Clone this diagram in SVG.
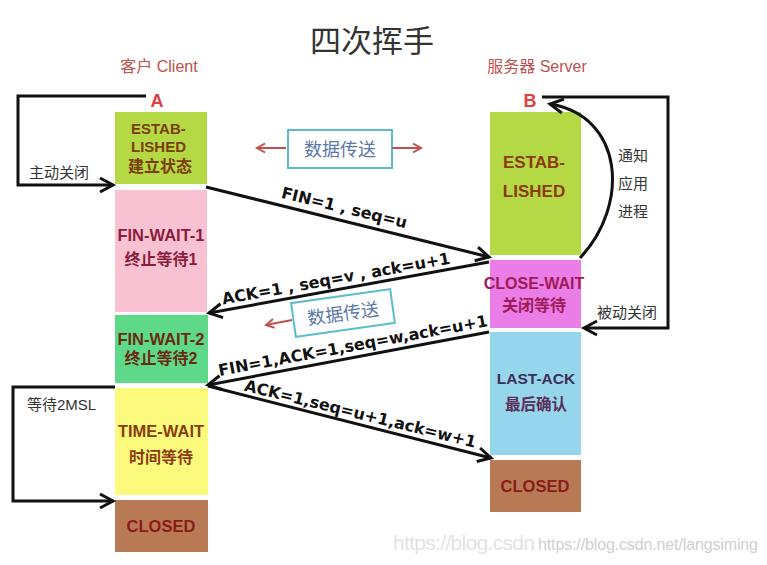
<svg xmlns="http://www.w3.org/2000/svg" width="767" height="565" viewBox="0 0 767 565">
<style>
.cjk{font-family:"Liberation Sans","Noto Sans CJK SC",sans-serif}
.st{font-family:"Liberation Sans","Noto Sans CJK SC",sans-serif;font-weight:bold;text-anchor:middle}
.lbl{font-family:"Liberation Sans","Noto Sans CJK SC",sans-serif;font-size:15px;fill:#333}
.msg{font-family:"DejaVu Sans","Noto Sans CJK SC",sans-serif;font-size:16px;font-weight:bold;fill:#111;text-anchor:middle}
.ln{fill:none;stroke:#111;stroke-width:3}
.red{fill:none;stroke:#c0504d;stroke-width:2}
.box{fill:#fff;stroke:#5bbccc;stroke-width:2}
.dt{font-family:"Noto Sans CJK SC",sans-serif;font-size:18px;fill:#5c78a8;text-anchor:middle}
</style>
<defs>
<marker id="ah" markerUnits="userSpaceOnUse" markerWidth="20" markerHeight="20" refX="0" refY="0" viewBox="-16 -10 20 20" orient="auto">
<path d="M-13,-7 L0,0 L-13,7" fill="none" stroke="#111" stroke-width="3"/>
</marker>
<marker id="rh" markerUnits="userSpaceOnUse" markerWidth="14" markerHeight="14" refX="0" refY="0" viewBox="-10 -7 14 14" orient="auto">
<path d="M-8,-4.5 L0,0 L-8,4.5" fill="none" stroke="#c0504d" stroke-width="2"/>
</marker>
</defs>
<rect width="767" height="565" fill="#fff"/>

<text x="372" y="52" class="cjk" font-size="31" fill="#333" text-anchor="middle">四次挥手</text>
<text x="159" y="72" class="cjk" font-size="16" fill="#c0504d" text-anchor="middle">客户 Client</text>
<text x="537" y="72" class="cjk" font-size="16" fill="#c0504d" text-anchor="middle">服务器 Server</text>
<text x="157" y="107" class="st" font-size="18" fill="#e0403f">A</text>
<text x="530" y="107" class="st" font-size="18" fill="#e0403f">B</text>

<g id="client-established">
<rect x="115" y="112" width="92" height="72" fill="#b5d944"/>
<text x="131" y="134" class="st" font-size="15" fill="#7a3c08" style="text-anchor:start">ESTAB-</text>
<text x="131" y="152" class="st" font-size="15" fill="#7a3c08" style="text-anchor:start">LISHED</text>
<text x="160" y="172" class="st" font-size="16" fill="#7a3c08">建立状态</text>
</g>
<g id="fin-wait-1">
<rect x="115" y="190" width="92" height="122" fill="#f9c2d2"/>
<text x="161" y="241" class="st" font-size="16.5" fill="#8b1c3c">FIN-WAIT-1</text>
<text x="161" y="265" class="st" font-size="16" fill="#8b1c3c">终止等待1</text>
</g>
<g id="fin-wait-2">
<rect x="115" y="315" width="93" height="68" fill="#5ed98a"/>
<text x="161" y="345" class="st" font-size="16.5" fill="#6b2a10">FIN-WAIT-2</text>
<text x="161" y="364" class="st" font-size="16" fill="#6b2a10">终止等待2</text>
</g>
<g id="time-wait">
<rect x="115" y="388" width="93" height="107" fill="#fbfa7c"/>
<text x="161" y="437" class="st" font-size="16.5" fill="#8b3c10">TIME-WAIT</text>
<text x="161" y="463" class="st" font-size="16" fill="#8b3c10">时间等待</text>
</g>
<g id="client-closed">
<rect x="115" y="500" width="93" height="52" fill="#b87a55"/>
<text x="161" y="532" class="st" font-size="16.5" fill="#8b1a1a">CLOSED</text>
</g>

<g id="server-established">
<rect x="490" y="112" width="91" height="143" fill="#b5d944"/>
<text x="534" y="168" class="st" font-size="17" fill="#8b3a0a">ESTAB-</text>
<text x="534" y="197" class="st" font-size="17" fill="#8b3a0a">LISHED</text>
</g>
<g id="close-wait">
<rect x="490" y="260" width="91" height="68" fill="#ea7de6"/>
<text x="534" y="289" class="st" font-size="16" fill="#a01a5a">CLOSE-WAIT</text>
<text x="534" y="311" class="st" font-size="16" fill="#a01a5a">关闭等待</text>
</g>
<g id="last-ack">
<rect x="490" y="332" width="91" height="123" fill="#96d6ec"/>
<text x="536" y="384" class="st" font-size="15.5" fill="#3d2d5a">LAST-ACK</text>
<text x="536" y="410" class="st" font-size="15.5" fill="#5a2d5a">最后确认</text>
</g>
<g id="server-closed">
<rect x="490" y="460" width="91" height="52" fill="#b87a55"/>
<text x="535" y="492" class="st" font-size="16.5" fill="#8b1a1a">CLOSED</text>
</g>

<g id="data-transfer-1">
<rect x="288" y="130" width="104" height="38" class="box"/>
<text x="340" y="156" class="dt">数据传送</text>
</g>
<g id="data-transfer-2" transform="rotate(-8 343 313)">
<rect x="293" y="296" width="100" height="34" class="box"/>
<text x="343" y="320" class="dt">数据传送</text>
</g>

<g id="connectors">
<path class="ln" d="M146 96 L18 96 L18 185 L113 185" marker-end="url(#ah)"/>
<path class="ln" d="M542 97 L668 97 L668 328 L584 328" marker-end="url(#ah)"/>
<path class="ln" d="M115 387 L13 387 L13 501 L113 501" marker-end="url(#ah)"/>
<path class="ln" d="M580 258 C630 205 624 116 550 104" marker-end="url(#ah)"/>
<path class="ln" d="M206 187 L489 257" marker-end="url(#ah)"/>
<path class="ln" d="M489 262 L209 313" marker-end="url(#ah)"/>
<path class="ln" d="M489 332 L208 385" marker-end="url(#ah)"/>
<path class="ln" d="M208 386 L491 458" marker-end="url(#ah)"/>
<path class="red" d="M286 148 L257 148" marker-end="url(#rh)"/>
<path class="red" d="M392 148 L421 148" marker-end="url(#rh)"/>
<path class="red" d="M292 320 L266 325" marker-end="url(#rh)"/>
</g>

<text x="343" y="213" class="msg" transform="rotate(13.7 343 213)">FIN=1 , seq=u</text>
<text x="337" y="284" class="msg" transform="rotate(-10.2 337 284)">ACK=1 , seq=v , ack=u+1</text>
<text x="354" y="351" class="msg" transform="rotate(-10.5 354 351)">FIN=1,ACK=1,seq=w,ack=u+1</text>
<text x="359" y="419" class="msg" transform="rotate(13.9 359 419)">ACK=1,seq=u+1,ack=w+1</text>

<text x="29" y="178" class="lbl">主动关闭</text>
<text x="27" y="410" class="lbl">等待2MSL</text>
<text x="597" y="318" class="lbl">被动关闭</text>
<text x="618" y="161" class="lbl" font-size="16">通知</text>
<text x="618" y="189" class="lbl" font-size="16">应用</text>
<text x="618" y="217" class="lbl" font-size="16">进程</text>

<text x="393" y="550" font-family="Liberation Sans, sans-serif" font-size="21" fill="#e3e3e3" textLength="142">https://blog.csdn</text>
<text x="538" y="550" font-family="Liberation Sans, sans-serif" font-size="16" fill="#cfcfcf" textLength="220">https://blog.csdn.net/langsiming</text>
</svg>
